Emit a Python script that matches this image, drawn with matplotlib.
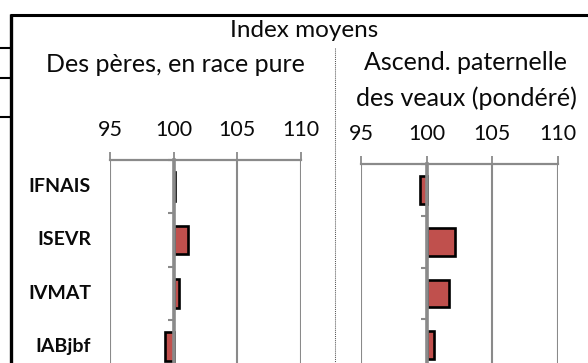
import matplotlib
matplotlib.use("Agg")
import matplotlib.pyplot as plt
from matplotlib.lines import Line2D
from matplotlib.transforms import blended_transform_factory

plt.rcParams['font.family'] = ['Lato', 'DejaVu Sans']

# Data
categories = ["IFNAIS", "ISEVR", "IVMAT", "IABjbf"]
peres_race_pure = [100.15, 101.1, 100.4, 99.3]
ascend_paternelle = [99.5, 102.2, 101.7, 100.6]
x_ticks = [95, 100, 105, 110]

title_main = "Index moyens"
title_left = "Des pères, en race pure"
title_right = ["Ascend. paternelle", "des veaux (pondéré)"]

W, H = 588, 363
fig = plt.figure(figsize=(W / 100, H / 100), dpi=100)

GRAY = "#8a8a8a"
RED = "#C0504D"
INK = "#0a0a0a"


def fx(px):
    return px / W


def fy(py):
    return 1 - py / H


def make_panel(left_px, right_px, top_px, step_px, values, pad, label_x_px=None):
    n = len(categories)
    bottom_px = top_px + n * step_px
    ax = fig.add_axes([fx(left_px), fy(bottom_px), (right_px - left_px) / W,
                       (bottom_px - top_px) / H])
    ax.set_xlim(95, 110)
    ax.set_ylim(n - 0.5, -0.5)
    ax.patch.set_alpha(0)

    for v in x_ticks:
        ax.axvline(v, color=GRAY, lw=1.5, zorder=0.5)

    ypos = list(range(n))
    widths = [v - 100 for v in values]
    ax.barh(ypos, widths, left=100, height=0.54, color=RED,
            edgecolor="black", linewidth=1.9, zorder=1)

    for s in ("right", "bottom"):
        ax.spines[s].set_visible(False)
    ax.spines["top"].set_color(GRAY)
    ax.spines["top"].set_linewidth(1.6)
    ax.spines["left"].set_position(("data", 100))
    ax.spines["left"].set_color(GRAY)
    ax.spines["left"].set_linewidth(2.6)
    ax.spines["left"].set_zorder(3)

    ax.xaxis.set_ticks_position("top")
    ax.set_xticks(x_ticks)
    ax.set_xticklabels([str(t) for t in x_ticks])
    ax.tick_params(axis="x", direction="out", length=6, width=1.3,
                   color=GRAY, labelsize=15.5, pad=pad, labelcolor=INK)

    ax.set_yticks([i - 0.5 for i in range(n + 1)])
    ax.set_yticklabels([])
    ax.tick_params(axis="y", direction="out", length=4.5, width=1.5, color=GRAY)

    if label_x_px is not None:
        tr = blended_transform_factory(fig.transFigure, ax.transData)
        for i, c in enumerate(categories):
            ax.text(fx(label_x_px), i, c, transform=tr, ha="right", va="center",
                    fontsize=14, fontweight="bold", color=INK)
    return ax


make_panel(110, 300.7, 160, 53.3, peres_race_pure, pad=8.2, label_x_px=91)
make_panel(361, 557.7, 164, 51.8, ascend_paternelle, pad=8.2)

# Titles (baseline positions)
TS = 18
fig.text(fx(304), fy(37), title_main, ha="center", va="baseline",
         fontsize=17.5, color=INK)
fig.text(fx(175), fy(72.5), title_left, ha="center", va="baseline",
         fontsize=TS, color=INK)
fig.text(fx(466), fy(70), title_right[0], ha="center", va="baseline",
         fontsize=TS, color=INK)
fig.text(fx(466), fy(106), title_right[1], ha="center", va="baseline",
         fontsize=TS, color=INK)

# Table borders
def hline(y, x0, x1, lw):
    fig.add_artist(Line2D([fx(x0), fx(x1)], [fy(y), fy(y)], color="black",
                          lw=lw, solid_capstyle="butt"))


hline(15, 9.5, 588, 2.2)
fig.add_artist(Line2D([fx(11), fx(11)], [fy(14), fy(363)], color="black",
                      lw=2.4, solid_capstyle="butt"))
for y in (47.7, 77.7, 116.7):
    hline(y, 0, 10, 1.5)

# Dotted cell separator
fig.add_artist(Line2D([fx(335), fx(335)], [fy(48), fy(363)], color="#555555",
                      lw=0.75, linestyle=(0, (1, 1))))

fig.savefig("out.png", dpi=100)
